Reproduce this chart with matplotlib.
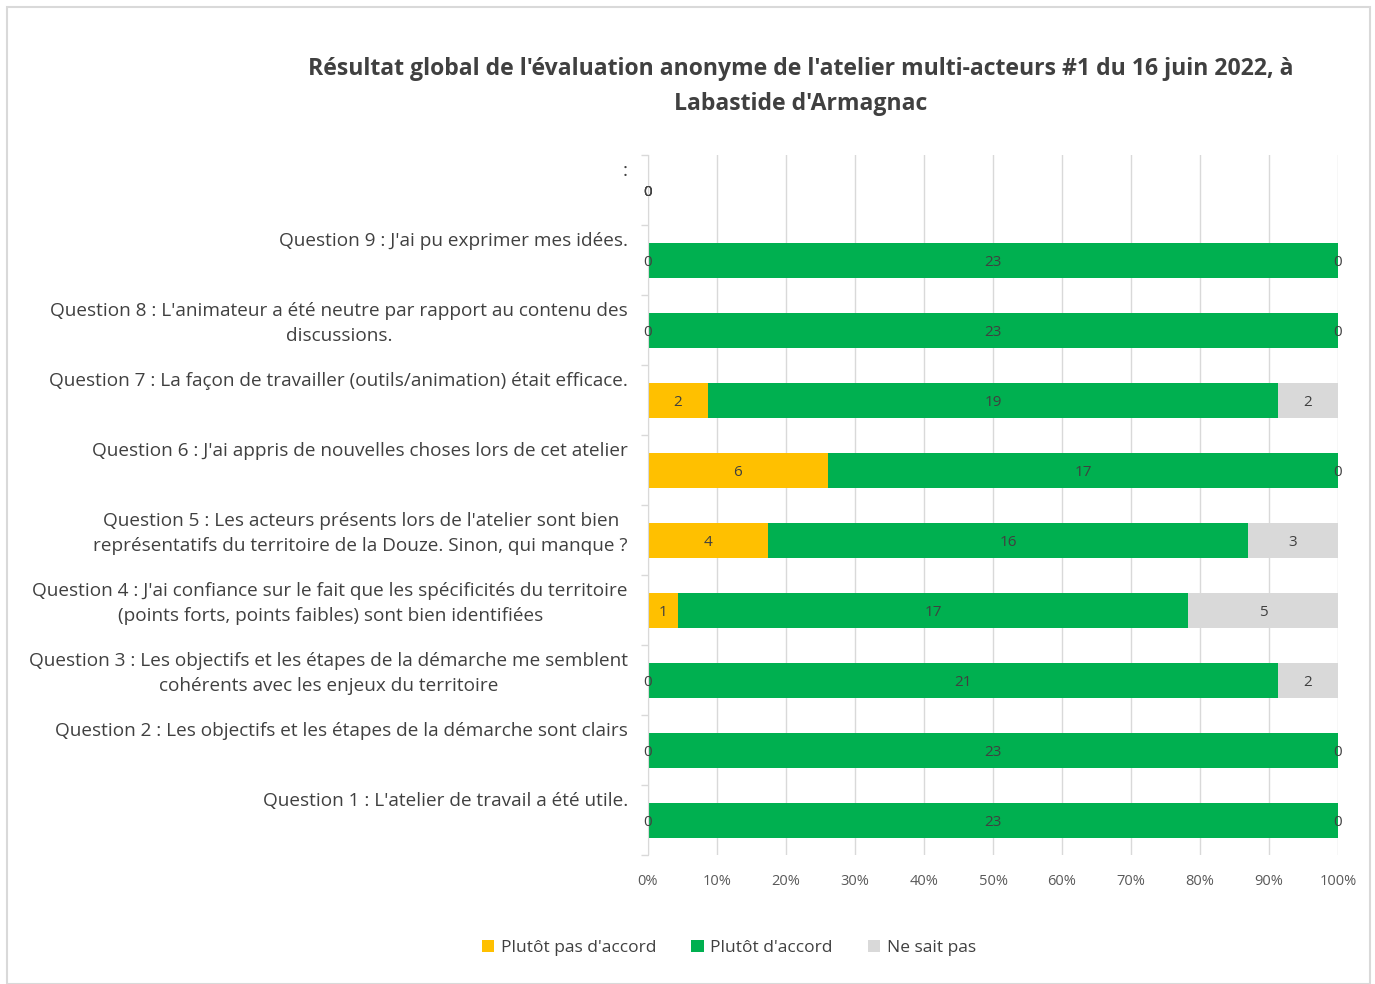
import matplotlib
matplotlib.use("Agg")
import matplotlib.pyplot as plt
from matplotlib.patches import Rectangle, Patch
import matplotlib.transforms as mtransforms
import numpy as np

plt.rcParams['font.family'] = ['Open Sans', 'DejaVu Sans']

categories = [
    "Question 1 : L'atelier de travail a été utile.",
    "Question 2 : Les objectifs et les étapes de la démarche sont clairs",
    "Question 3 : Les objectifs et les étapes de la démarche me semblent\ncohérents avec les enjeux du territoire",
    "Question 4 : J'ai confiance sur le fait que les spécificités du territoire\n(points forts, points faibles) sont bien identifiées",
    "Question 5 : Les acteurs présents lors de l'atelier sont bien\nreprésentatifs du territoire de la Douze. Sinon, qui manque ?",
    "Question 6 : J'ai appris de nouvelles choses lors de cet atelier",
    "Question 7 : La façon de travailler (outils/animation) était efficace.",
    "Question 8 : L'animateur a été neutre par rapport au contenu des\ndiscussions.",
    "Question 9 : J'ai pu exprimer mes idées.",
    ":",
]
pas_accord = [0, 0, 0, 1, 4, 6, 2, 0, 0, 0]
accord = [23, 23, 21, 17, 16, 17, 19, 23, 23, 0]
ne_sait_pas = [0, 0, 2, 5, 3, 0, 2, 0, 0, 0]
series_names = ["Plutôt pas d'accord", "Plutôt d'accord", "Ne sait pas"]
colors = ["#FFC000", "#00B050", "#D9D9D9"]
xtick_labels = ["0%", "10%", "20%", "30%", "40%", "50%", "60%", "70%", "80%", "90%", "100%"]
title = "Résultat global de l'évaluation anonyme de l'atelier multi-acteurs #1 du 16 juin 2022, à\nLabastide d'Armagnac"

W, H = 1375, 984
fig = plt.figure(figsize=(W / 100, H / 100), dpi=100)
fig.patch.set_facecolor("white")
fig.add_artist(Rectangle((7 / W, 0), (1370 - 7) / W, (H - 7) / H, transform=fig.transFigure,
                         fill=False, edgecolor="#D9D9D9", lw=1.5))

ax = fig.add_axes([648 / W, 1 - 855 / H, (1338 - 648) / W, (855 - 155) / H])

data = np.array([pas_accord, accord, ne_sait_pas], dtype=float)
totals = data.sum(axis=0)
safe = np.where(totals == 0, 1, totals)
frac = data / safe
y = np.arange(len(categories))
left = np.zeros(len(categories))
for k in range(3):
    ax.barh(y, frac[k], left=left, height=0.5, color=colors[k], label=series_names[k], zorder=2)
    for i in range(len(categories)):
        xc = left[i] + frac[k][i] / 2
        ax.text(xc, y[i], f"{int(data[k][i])}", ha="center", va="center_baseline",
                fontsize=11, color="#404040", zorder=3)
    left = left + frac[k]

ax.set_xlim(0, 1)
ax.set_ylim(-0.5, len(categories) - 0.5)
ax.set_xticks(np.linspace(0, 1, 11))
ax.set_xticklabels(xtick_labels, fontsize=10.5, color="#595959")
ax.tick_params(axis="x", length=0, pad=14)
ax.grid(axis="x", color="#D9D9D9", lw=1, zorder=0)
ax.set_yticks(np.arange(-0.5, len(categories), 1.0))
ax.set_yticklabels([])
ax.tick_params(axis="y", length=5, color="#D9D9D9", width=1)
for s in ["top", "right", "bottom"]:
    ax.spines[s].set_visible(False)
ax.spines["left"].set_color("#D9D9D9")

trans = mtransforms.blended_transform_factory(ax.transAxes, ax.transData)
for i, lab in enumerate(categories):
    ax.text(-0.029, i + 0.5 - 0.1, lab, transform=trans, ha="right", va="top",
            multialignment="center", fontsize=13.7, color="#404040", linespacing=1.52)

fig.text(0.582, 1 - 86.5 / H, title, ha="center", va="center", fontsize=16.6, fontweight="bold",
         color="#404040", linespacing=1.58)

handles = [Patch(facecolor=c, edgecolor="none") for c in colors]
fig.legend(handles, series_names, loc="center", bbox_to_anchor=(729 / W, 1 - 948 / H), ncol=3,
           frameon=False, fontsize=12.5, handlelength=0.7, handleheight=0.7, handletextpad=0.4,
           columnspacing=2.0, labelcolor="#404040")

fig.savefig("out.png", dpi=100)
